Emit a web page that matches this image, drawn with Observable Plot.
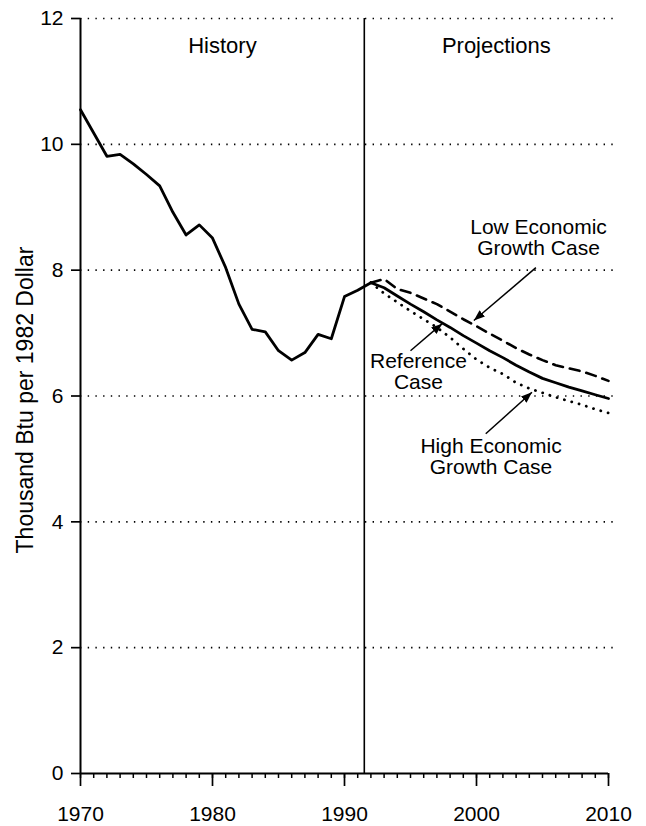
<!DOCTYPE html>
<html><head><meta charset="utf-8">
<script src="https://cdn.jsdelivr.net/npm/d3@7"></script>
<script src="https://cdn.jsdelivr.net/npm/@observablehq/plot@0.6"></script>
<style>
html,body{margin:0;padding:0;background:#fff;}
#chart svg{display:block;}
</style></head><body><div id="chart"></div>
<script>
// ---- data ----
const historyYears = [1970,1971,1972,1973,1974,1975,1976,1977,1978,1979,1980,1981,1982,1983,1984,1985,1986,1987,1988,1989,1990,1991,1992];
const historyValues = [10.55,10.18,9.81,9.84,9.69,9.52,9.34,8.92,8.56,8.72,8.51,8.04,7.46,7.06,7.02,6.72,6.57,6.69,6.98,6.91,7.58,7.68,7.80];
const projYears = [1992,1993,1994,1995,1996,1997,1998,1999,2000,2001,2002,2003,2004,2005,2006,2007,2008,2009,2010];
const referenceCase = [7.80,7.72,7.59,7.46,7.34,7.21,7.09,6.96,6.84,6.72,6.61,6.49,6.38,6.28,6.21,6.14,6.08,6.02,5.96];
const lowGrowthCase = [7.80,7.86,7.70,7.64,7.55,7.46,7.34,7.22,7.11,6.99,6.88,6.76,6.66,6.57,6.49,6.44,6.39,6.32,6.24];
const highGrowthCase = [7.80,7.63,7.49,7.35,7.22,7.09,6.93,6.75,6.58,6.45,6.35,6.21,6.12,6.05,5.98,5.92,5.86,5.79,5.73];
const yTicks = [0,2,4,6,8,10,12];
const xTicks = [1970,1980,1990,2000,2010];
const minorYears = d3.range(1970, 2011);
const dividerYear = 1991.5;
const panelLabels = ["History","Projections"];
const panelX = [1980.75, 2001.5];
const panelY = [11.57, 11.57];
const annoLabels = ["Low Economic\nGrowth Case","Reference\nCase","High Economic\nGrowth Case"];
const annoX = [2004.7, 1995.6, 2001.1];
const annoY = [8.52, 6.39, 5.04];
const arrowFromX = [2004.5, 1995.0, 2000.7];
const arrowFromY = [8.04, 6.72, 5.40];
const arrowToX = [1999.8, 1997.4, 2004.2];
const arrowToY = [7.20, 7.15, 6.06];
const yLabel = "Thousand Btu per 1982 Dollar";

// ---- tables ----
const hist = historyYears.map((year, i) => ({year, value: historyValues[i]}));
const proj = (vals) => projYears.map((year, i) => ({year, value: vals[i]}));
const annos = annoLabels.map((label, i) => ({label, x: annoX[i], y: annoY[i]}));
const arrows = arrowFromX.map((x1, i) => ({x1, y1: arrowFromY[i], x2: arrowToX[i], y2: arrowToY[i]}));
const panels = panelLabels.map((label, i) => ({label, x: panelX[i], y: panelY[i]}));

function solidArrow(color, context) {
  const ns = "http://www.w3.org/2000/svg";
  const doc = (context && context.document) || document;
  const m = doc.createElementNS(ns, "marker");
  m.setAttribute("viewBox", "-11 -5 12 10");
  m.setAttribute("markerWidth", 12);
  m.setAttribute("markerHeight", 10);
  m.setAttribute("markerUnits", "userSpaceOnUse");
  m.setAttribute("orient", "auto");
  const p = doc.createElementNS(ns, "path");
  p.setAttribute("d", "M-11,-4.2L0,0L-11,4.2Z");
  p.setAttribute("fill", color);
  p.setAttribute("stroke", "none");
  m.appendChild(p);
  return m;
}

const font = "'Liberation Sans', Arial, Helvetica, sans-serif";

const chart = Plot.plot({
  width: 646,
  height: 826,
  marginLeft: 80,
  marginRight: 38,
  marginTop: 18,
  marginBottom: 53,
  style: {fontFamily: font, background: "#fff", color: "#000"},
  x: {domain: [1970, 2010]},
  y: {domain: [0, 12]},
  marks: [
    Plot.ruleY(yTicks.filter(d => d > 0), {x1: 1970, x2: 2010.4, stroke: "#000", strokeWidth: 1.6, strokeDasharray: "1.4,6.3"}),
    // minor and major x ticks
    Plot.ruleX(minorYears, {y1: 0, y2: 0, insetBottom: -5, stroke: "#000", strokeWidth: 1.5}),
    Plot.ruleX(xTicks, {y1: 0, y2: 0, insetBottom: -13, stroke: "#000", strokeWidth: 1.7}),
    // y ticks
    Plot.ruleY(yTicks, {x1: 1970, x2: 1970, insetLeft: -9, stroke: "#000", strokeWidth: 1.7}),
    Plot.axisX(xTicks, {tickSize: 0, tickPadding: 33, fontSize: 21, tickFormat: d => String(d)}),
    Plot.axisY(yTicks, {tickSize: 0, tickPadding: 17, fontSize: 21, label: null, tickFormat: d => String(d)}),
    Plot.text([yLabel], {frameAnchor: "left", dx: -55, dy: 4, rotate: -90, fontSize: 23, textAnchor: "middle"}),
    Plot.ruleY([0], {stroke: "#000", strokeWidth: 2}),
    Plot.ruleX([1970], {y1: 0, y2: 12, stroke: "#000", strokeWidth: 2}),
    Plot.ruleX([dividerYear], {y1: 0, y2: 12, stroke: "#000", strokeWidth: 1.6}),
    Plot.line(hist, {x: "year", y: "value", stroke: "#000", strokeWidth: 2.8, strokeLinejoin: "round"}),
    Plot.line(proj(lowGrowthCase), {x: "year", y: "value", stroke: "#000", strokeWidth: 2.6, strokeDasharray: "10,7"}),
    Plot.line(proj(highGrowthCase), {x: "year", y: "value", stroke: "#000", strokeWidth: 2.8, strokeDasharray: "0.1,7.5", strokeLinecap: "round"}),
    Plot.line(proj(referenceCase), {x: "year", y: "value", stroke: "#000", strokeWidth: 2.8, strokeLinejoin: "round"}),
    Plot.link(arrows, {x1: "x1", y1: "y1", x2: "x2", y2: "y2", stroke: "#000", strokeWidth: 1.5, markerEnd: solidArrow}),
    Plot.text(annos, {x: "x", y: "y", text: "label", fontSize: 21, lineHeight: 1.0, textAnchor: "middle", lineAnchor: "middle", fill: "#000"}),
    Plot.text(panels, {x: "x", y: "y", text: "label", fontSize: 22, textAnchor: "middle", lineAnchor: "middle", fill: "#000"})
  ]
});
document.getElementById("chart").appendChild(chart);
</script>
</body></html>
